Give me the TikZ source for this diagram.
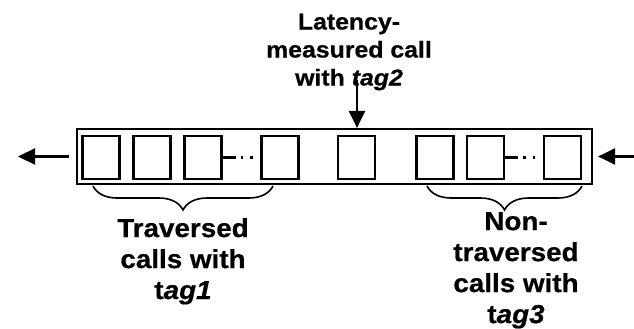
\documentclass[tikz,border=0pt]{standalone}
\usepackage{fontspec}
\setmainfont{Liberation Sans}
\newfontfamily\toplabelfont[FakeStretch=1.08,FakeBold=0.6]{Liberation Sans}
\newfontfamily\botlabelfont[FakeStretch=1.07,FakeBold=0.6]{Liberation Sans}
\usetikzlibrary{arrows.meta,decorations.pathreplacing}
\begin{document}
\begin{tikzpicture}[x=1pt,y=-1pt,
  callbox/.style={draw, line width=2.2pt, minimum width=37pt, minimum height=43pt, inner sep=0pt},
  arr/.style={line width=2.2pt, -{Triangle[length=17pt,width=16pt]}},
  dots/.style={line width=2.2pt, dash pattern=on 13pt off 5pt on 2.5pt off 7pt on 2.5pt off 20pt},
  bracestyle/.style={line width=1.6pt, decorate, decoration={brace, mirror, amplitude=24pt}},
  toplabel/.style={font=\toplabelfont\fontsize{23}{28}\selectfont\bfseries, align=center, anchor=north, inner sep=0pt},
  botlabel/.style={font=\botlabelfont\fontsize{26}{31}\selectfont\bfseries, align=center, anchor=north, inner sep=0pt}]
\useasboundingbox (0,0) rectangle (634,329);
\fill[white] (0,0) rectangle (634,329);
\node[draw, line width=2.2pt, minimum width=515pt, minimum height=55pt, inner sep=0pt] (outer) at (334.5,156.5) {};
\node[callbox] (b1) at (101,157.5) {};
\node[callbox] (b2) at (152,157.5) {};
\node[callbox] (b3) at (203,157.5) {};
\node[callbox] (b4) at (280,157.5) {};
\node[callbox] (b5) at (356.5,157.5) {};
\node[callbox] (b6) at (435,157.5) {};
\node[callbox] (b7) at (485.5,157.5) {};
\node[callbox] (b8) at (562.5,157.5) {};
\draw[dots] (b3.east) -- (b4.west);
\draw[dots] (b7.east) -- (b8.west);
\coordinate (lefttip) at (18,156.5);
\coordinate (rightstart) at (634,156.5);
\coordinate (dstart) at (357,80);
\draw[arr, shorten <=7pt] (outer.west) -- (lefttip);
\draw[arr, shorten >=5pt] (rightstart) -- (outer.east);
\draw[arr] (dstart) -- (dstart |- outer.north);
\coordinate (br1a) at (93,186);
\coordinate (br1b) at (273,186);
\coordinate (br2a) at (427,186);
\coordinate (br2b) at (582,186);
\draw[bracestyle] (br1a) -- (br1b);
\draw[bracestyle] (br2a) -- (br2b);
\node[toplabel] (lat) at (349,13.5) {Latency-\\measured call\\with \textit{tag2}};
\node[botlabel] (trav) at (183,218) {Traversed\\calls with\\t\textit{ag1}};
\node[botlabel] (ntrav) at (516,212) {Non-\\traversed\\calls with\\t\textit{ag3}};
\end{tikzpicture}
\end{document}
